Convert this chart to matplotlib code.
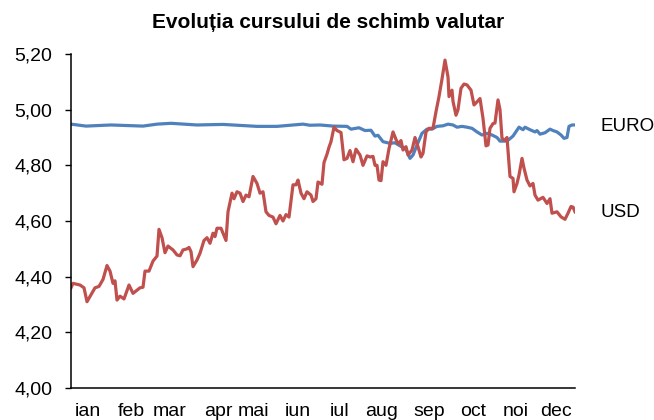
import matplotlib
matplotlib.use('Agg')
from matplotlib import pyplot as plt
from matplotlib.ticker import FuncFormatter
import matplotlib.transforms as mtransforms

plt.rcParams['font.family'] = ['Liberation Sans', 'DejaVu Sans']

# trading day index (0..252) and rate
usd_days = [0, 1, 4.5, 6.5, 8, 12, 14, 16, 18, 19.5, 21, 22, 23, 24.5, 26.5, 29, 31,
            34.5, 36, 37, 39, 41, 43, 44, 45.5, 47, 48.5, 51, 53, 54.5, 56, 58, 59,
            60, 61, 63, 64.5, 66.5, 68, 69.5, 71, 72, 73, 75, 76, 77.5, 78.5, 80.5,
            81.5, 83, 84.5, 86, 87.5, 89, 91, 93, 94.5, 96, 97.5, 99, 101, 102.5,
            104.5, 106, 107.5, 109, 111, 112.5, 113.5, 115, 116.5, 118, 120, 121,
            122.5, 123.5, 125.5, 126.5, 128, 129, 130, 131.5, 133, 135, 136.5, 138,
            139.5, 141, 142.5, 144.5, 146, 148, 149.5, 151, 152, 153, 154, 155, 156,
            157.5, 159, 161, 162.5, 163.5, 165, 166, 167.5, 168.5, 170.5, 172, 173.5,
            175, 176, 177.5, 179, 181, 182.5, 184, 185.5, 187, 188.5, 189, 190.5, 191,
            192.5, 193.5, 195, 196.5, 198, 200, 201.5, 203, 204.5, 206, 207.5, 208.5,
            209.5, 211, 212, 213.5, 214.5, 215.5, 217, 218, 219.5, 221, 221.5, 223,
            224, 225.5, 226.5, 228, 229.5, 231, 232, 233.5, 236, 238, 239.5, 240.5,
            243, 245, 247, 248.5, 250, 251, 252]
usd = [4.36, 4.376, 4.37, 4.36, 4.31, 4.36, 4.365, 4.39, 4.44, 4.42, 4.376, 4.385,
       4.316, 4.33, 4.32, 4.37, 4.34, 4.36, 4.362, 4.42, 4.42, 4.456, 4.474, 4.57,
       4.54, 4.486, 4.51, 4.496, 4.478, 4.475, 4.496, 4.50, 4.505, 4.49, 4.436,
       4.46, 4.484, 4.53, 4.54, 4.52, 4.556, 4.544, 4.574, 4.574, 4.556, 4.53,
       4.633, 4.70, 4.68, 4.705, 4.70, 4.67, 4.693, 4.687, 4.76, 4.735, 4.70,
       4.705, 4.633, 4.62, 4.614, 4.59, 4.62, 4.60, 4.623, 4.614, 4.73, 4.73,
       4.747, 4.70, 4.68, 4.705, 4.693, 4.67, 4.68, 4.74, 4.732, 4.81, 4.84,
       4.865, 4.885, 4.937, 4.925, 4.918, 4.82, 4.825, 4.853, 4.813, 4.858,
       4.837, 4.80, 4.834, 4.83, 4.832, 4.80, 4.80, 4.747, 4.745, 4.813, 4.80,
       4.86, 4.92, 4.893, 4.877, 4.889, 4.855, 4.867, 4.837, 4.855, 4.90, 4.867,
       4.83, 4.843, 4.92, 4.933, 4.933, 4.993, 5.047, 5.11, 5.178, 5.118, 5.047,
       5.07, 5.03, 4.98, 5.00, 5.077, 5.092, 5.089, 5.07, 5.017, 5.028, 5.04,
       4.969, 4.87, 4.873, 4.933, 4.95, 4.952, 5.035, 5.00, 4.897, 4.89, 4.90,
       4.76, 4.753, 4.705, 4.735, 4.765, 4.825, 4.79, 4.747, 4.726, 4.735, 4.693,
       4.675, 4.685, 4.663, 4.68, 4.628, 4.633, 4.615, 4.606, 4.628, 4.652, 4.65,
       4.633]

eur_days = [0, 7.5, 20, 36, 43, 50, 63, 76, 93, 103, 116, 119.5, 124.5, 131, 138,
            140, 144, 147, 150, 152, 153.5, 156, 159.5, 162, 164.5, 167.5, 169.5,
            171, 173, 175.5, 178, 180.5, 183, 186, 188.5, 191, 193, 195.5, 198,
            200.5, 203, 205.5, 208, 210.5, 213, 214.5, 217, 218.5, 221, 224, 226,
            227, 229.5, 232, 233, 234.5, 237, 239.5, 241, 243, 245, 246.5, 248, 249,
            250.5, 252]
eur = [4.948, 4.941, 4.945, 4.941, 4.948, 4.951, 4.945, 4.947, 4.940, 4.940, 4.948,
       4.944, 4.945, 4.941, 4.94, 4.93, 4.935, 4.925, 4.926, 4.905, 4.908, 4.885,
       4.879, 4.881, 4.87, 4.858, 4.825, 4.837, 4.873, 4.915, 4.93, 4.93, 4.94,
       4.942, 4.948, 4.945, 4.937, 4.94, 4.937, 4.933, 4.92, 4.909, 4.915, 4.909,
       4.90, 4.887, 4.887, 4.89, 4.905, 4.937, 4.928, 4.937, 4.928, 4.92, 4.925,
       4.912, 4.917, 4.93, 4.925, 4.92, 4.909, 4.897, 4.90, 4.94, 4.945, 4.945]

months = ['ian', 'feb', 'mar', 'apr', 'mai', 'iun', 'iul', 'aug', 'sep', 'oct', 'noi', 'dec']
month_pos = [8.5, 30, 49.5, 73.5, 91, 113.5, 134.5, 155.5, 179, 201, 222.5, 242.5]

fig = plt.figure(figsize=(6.54, 4.2), dpi=100)
ax = fig.add_axes([71 / 654, 32 / 420, 504 / 654, 334 / 420])

ax.plot(eur_days, eur, color='#4F81BD', lw=2.3, solid_joinstyle='round')
ax.plot(usd_days, usd, color='#C0504D', lw=2.3, solid_joinstyle='round')

ax.set_xlim(0, 252)
ax.set_ylim(4.0, 5.2)
ax.set_yticks([4.0, 4.2, 4.4, 4.6, 4.8, 5.0, 5.2])
ax.yaxis.set_major_formatter(FuncFormatter(lambda v, p: f'{v:.2f}'.replace('.', ',')))
ax.tick_params(axis='y', direction='out', length=4.5, width=1, labelsize=14, pad=9)

ax.set_xticks(month_pos)
ax.set_xticklabels(months)
ax.tick_params(axis='x', length=0, labelsize=14, pad=11)

for s in ['top', 'right']:
    ax.spines[s].set_visible(False)
for s in ['left', 'bottom']:
    ax.spines[s].set_linewidth(1.1)

# series names at the right end of the lines
trans = mtransforms.blended_transform_factory(ax.transAxes, ax.transData)
ax.text(1.05, 4.94, 'EURO', transform=trans, va='center', ha='left', fontsize=13.5)
ax.text(1.05, 4.63, 'USD', transform=trans, va='center', ha='left', fontsize=13.5)

fig.text(328 / 654, 1 - 23 / 420, 'Evoluția cursului de schimb valutar',
         ha='center', va='center', fontsize=15, fontweight='bold')

fig.savefig('out.png', dpi=100)
